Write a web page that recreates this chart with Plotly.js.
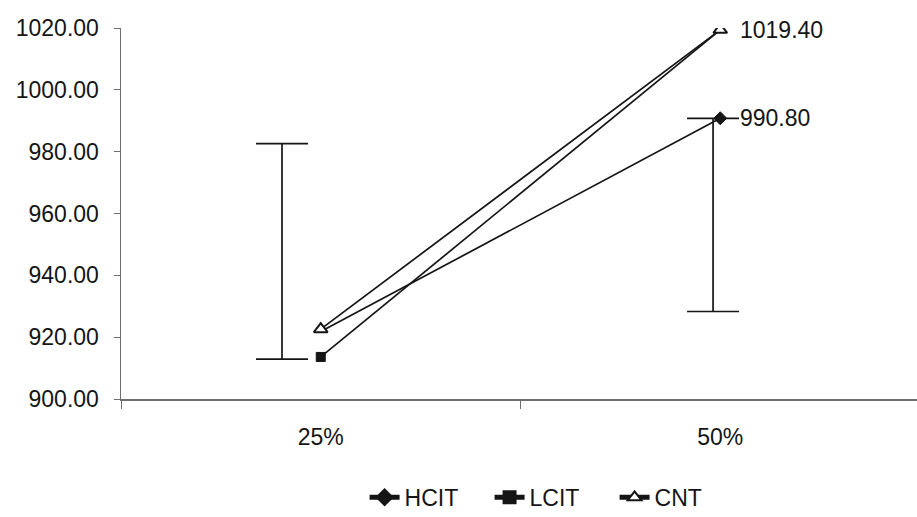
<!DOCTYPE html>
<html>
<head>
<meta charset="utf-8">
<script src="https://cdn.plot.ly/plotly-3.0.1.min.js"></script>
<style>html,body{margin:0;padding:0;background:#fff;}#chart{width:917px;height:517px;}</style>
</head>
<body>
<div id="chart"></div>
<script>
const categories = ['25%', '50%'];
const hcit = [921.8, 990.8];
const lcit = [913.6, 1019.4];
const cnt = [922.6, 1019.4];
const errLow = [912.9, 928.3];
const errHigh = [982.6, 990.8];
const yTickVals = [900, 920, 940, 960, 980, 1000, 1020];

// style: horizontal offsets of the error-bar markers relative to each category
const errOffset = [-0.097, -0.018];

const ink = '#151515';
const axisCol = '#6e6e6e';
const fontFam = 'Liberation Sans, Arial, sans-serif';
const fs = 23;
const xRange = [-0.5, 1.4925];

const errCenter = errLow.map((v, i) => (v + errHigh[i]) / 2);
const errHalf = errLow.map((v, i) => (errHigh[i] - v) / 2);

const traces = [
  {
    x: categories, y: hcit, name: 'HCIT', type: 'scatter', mode: 'lines+markers',
    line: {color: ink, width: 1.7},
    marker: {symbol: 'diamond', size: [0, 10], color: ink, opacity: 1, line: {width: 1, color: ink}}
  },
  {
    x: categories, y: lcit, name: 'LCIT', type: 'scatter', mode: 'lines+markers',
    line: {color: ink, width: 1.7},
    marker: {symbol: 'square', size: [9, 0], color: ink, opacity: 1, line: {width: 1, color: ink}}
  },
  {
    x: categories, y: cnt, name: 'CNT', type: 'scatter', mode: 'lines+markers',
    line: {color: ink, width: 1.7},
    marker: {symbol: 'triangle-up', size: 12, color: '#fff', opacity: 1, line: {width: 2, color: ink}}
  },
  {
    x: errOffset.map((o, i) => i + o), y: errCenter, xaxis: 'x2', type: 'scatter', mode: 'markers',
    showlegend: false, hoverinfo: 'skip',
    marker: {size: 1, opacity: 0},
    error_y: {type: 'data', array: errHalf, symmetric: true, width: 26, thickness: 1.7, color: ink}
  }
];

const labelFor = (arr) => ({
  x: categories[1], y: arr[1], xref: 'x', yref: 'y', text: arr[1].toFixed(2),
  showarrow: false, xanchor: 'left', yanchor: 'middle', xshift: 18,
  font: {family: fontFam, size: fs, color: ink}
});

const layout = {
  width: 917, height: 517,
  margin: {l: 121, r: 0, t: 28, b: 118, autoexpand: false},
  paper_bgcolor: '#fff', plot_bgcolor: '#fff',
  font: {family: fontFam, size: fs, color: ink},
  showlegend: true,
  legend: {orientation: 'h', x: 0.306, xanchor: 'left', y: -0.265, yanchor: 'middle',
           font: {family: fontFam, size: fs, color: ink}, traceorder: 'normal',
           itemsizing: 'constant', entrywidth: 80, entrywidthmode: 'pixels'},
  annotations: [labelFor(cnt), labelFor(hcit)],
  xaxis: {
    type: 'category', range: xRange, tickson: 'boundaries', ticks: 'outside', ticklen: 8,
    tickcolor: axisCol, showline: true, linecolor: axisCol, linewidth: 1.5,
    showgrid: false, zeroline: false, fixedrange: true,
    tickfont: {family: fontFam, size: fs, color: ink}, ticklabelstandoff: 17
  },
  xaxis2: {overlaying: 'x', range: xRange, visible: false, fixedrange: true},
  yaxis: {
    range: [900, 1020], tickvals: yTickVals, ticktext: yTickVals.map(v => v.toFixed(2)),
    ticks: 'outside', ticklen: 6, tickcolor: axisCol, showline: true, linecolor: axisCol, linewidth: 1.5,
    showgrid: false, zeroline: false, fixedrange: true,
    tickfont: {family: fontFam, size: fs, color: ink}, ticklabelstandoff: 10
  }
};

Plotly.newPlot('chart', traces, layout, {displayModeBar: false, staticPlot: true});
</script>
</body>
</html>
